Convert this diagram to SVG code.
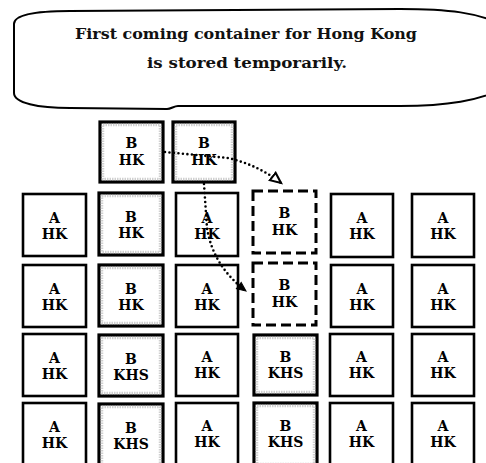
<svg xmlns="http://www.w3.org/2000/svg" width="486" height="463" viewBox="0 0 486 463">
<style>
  .bx{fill:#fff;stroke:#000;stroke-width:2.6}
  .bb{fill:#fff;stroke:#000;stroke-width:3.2}
  .sh{fill:none;stroke:#d0d0d0;stroke-width:2.5;stroke-dasharray:1.5 1}
  .dash{fill:#fff;stroke:#000;stroke-width:3;stroke-dasharray:10 5}
  .t{font-family:"DejaVu Serif","Liberation Serif",serif;font-weight:bold;font-size:14px;text-anchor:middle;fill:#000}
  .ct{font-family:"DejaVu Serif","Liberation Serif",serif;font-weight:bold;font-size:14.5px;text-anchor:middle;fill:#111}
  .con{fill:none;stroke:#000;stroke-width:2.6;stroke-linecap:round;stroke-dasharray:0 4.5}
</style>
<defs>
  <marker id="open" markerUnits="userSpaceOnUse" markerWidth="14" markerHeight="14" refX="10" refY="5" orient="auto" viewBox="0 0 12 10">
    <path d="M1,1 L10,5 L1,9 Z" fill="#fff" stroke="#000" stroke-width="1.8"/>
  </marker>
  <marker id="solid" markerUnits="userSpaceOnUse" markerWidth="12" markerHeight="12" refX="10" refY="5" orient="auto" viewBox="0 0 12 10">
    <path d="M1,1 L10,5 L1,9 Z" fill="#000" stroke="#000" stroke-width="1"/>
  </marker>
</defs>
<rect width="486" height="463" fill="#fff"/>

<g id="callout">
  <path d="M14,24 C14,14 40,11 70,11 L400,9 C450,9 478,13 500,24 L500,90 C478,100 450,106 400,106 L178,106 C174,106 171,109 167,109 L70,108 C38,108 14,103 14,93 Z" fill="#fff" stroke="#000" stroke-width="2"/>
  <text class="ct" x="246" y="39" textLength="342" lengthAdjust="spacingAndGlyphs">First coming container for Hong Kong</text>
  <text class="ct" x="247" y="68" textLength="200" lengthAdjust="spacingAndGlyphs">is stored temporarily.</text>
</g>

<g id="top-b1"><rect class="bb" x="100" y="122" width="63" height="60"/><rect class="sh" x="103" y="125" width="57" height="54"/><text class="t" x="131.5" y="148">B</text><text class="t" x="131.5" y="165">HK</text></g>
<g id="top-b2"><rect class="bb" x="173" y="122" width="62" height="60"/><rect class="sh" x="176" y="125" width="56" height="54"/><text class="t" x="204" y="148">B</text><text class="t" x="204" y="165">HK</text></g>

<g id="r1c1"><rect class="bx" x="23" y="194" width="63" height="62"/><text class="t" x="54.5" y="223">A</text><text class="t" x="54.5" y="239">HK</text></g>
<g id="r1c2"><rect class="bb" x="99" y="193" width="64" height="62"/><rect class="sh" x="102" y="196" width="58" height="56"/><text class="t" x="131" y="222">B</text><text class="t" x="131" y="238">HK</text></g>
<g id="r1c3"><rect class="bx" x="176" y="193" width="62" height="63"/><text class="t" x="207" y="223">A</text><text class="t" x="207" y="239">HK</text></g>
<g id="r1c4"><rect class="dash" x="253" y="191" width="63" height="62"/><text class="t" x="284.5" y="218">B</text><text class="t" x="284.5" y="235">HK</text></g>
<g id="r1c5"><rect class="bx" x="331" y="194" width="62" height="63"/><text class="t" x="362" y="223">A</text><text class="t" x="362" y="239">HK</text></g>
<g id="r1c6"><rect class="bx" x="412" y="194" width="62" height="63"/><text class="t" x="443" y="223">A</text><text class="t" x="443" y="239">HK</text></g>

<g id="r2c1"><rect class="bx" x="23" y="265" width="63" height="62"/><text class="t" x="54.5" y="294">A</text><text class="t" x="54.5" y="310">HK</text></g>
<g id="r2c2"><rect class="bb" x="99" y="265" width="64" height="61"/><rect class="sh" x="102" y="268" width="58" height="55"/><text class="t" x="131" y="294">B</text><text class="t" x="131" y="310">HK</text></g>
<g id="r2c3"><rect class="bx" x="176" y="265" width="62" height="62"/><text class="t" x="207" y="294">A</text><text class="t" x="207" y="310">HK</text></g>
<g id="r2c4"><rect class="dash" x="253" y="263" width="63" height="62"/><text class="t" x="284.5" y="290">B</text><text class="t" x="284.5" y="307">HK</text></g>
<g id="r2c5"><rect class="bx" x="331" y="265" width="62" height="62"/><text class="t" x="362" y="294">A</text><text class="t" x="362" y="310">HK</text></g>
<g id="r2c6"><rect class="bx" x="412" y="265" width="62" height="62"/><text class="t" x="443" y="294">A</text><text class="t" x="443" y="310">HK</text></g>

<g id="r3c1"><rect class="bx" x="23" y="334" width="63" height="62"/><text class="t" x="54.5" y="363">A</text><text class="t" x="54.5" y="379">HK</text></g>
<g id="r3c2"><rect class="bb" x="99" y="335" width="64" height="61"/><rect class="sh" x="102" y="338" width="58" height="55"/><text class="t" x="131" y="364">B</text><text class="t" x="131" y="380">KHS</text></g>
<g id="r3c3"><rect class="bx" x="176" y="334" width="62" height="62"/><text class="t" x="207" y="362">A</text><text class="t" x="207" y="378">HK</text></g>
<g id="r3c4"><rect class="bb" x="254" y="335" width="63" height="60"/><rect class="sh" x="257" y="338" width="57" height="54"/><text class="t" x="285.5" y="362">B</text><text class="t" x="285.5" y="378">KHS</text></g>
<g id="r3c5"><rect class="bx" x="330" y="334" width="63" height="62"/><text class="t" x="361.5" y="362">A</text><text class="t" x="361.5" y="378">HK</text></g>
<g id="r3c6"><rect class="bx" x="412" y="334" width="62" height="62"/><text class="t" x="443" y="362">A</text><text class="t" x="443" y="378">HK</text></g>

<g id="r4c1"><rect class="bx" x="23" y="403" width="63" height="64"/><text class="t" x="54.5" y="432">A</text><text class="t" x="54.5" y="448">HK</text></g>
<g id="r4c2"><rect class="bb" x="99" y="404" width="64" height="64"/><rect class="sh" x="102" y="407" width="58" height="58"/><text class="t" x="131" y="433">B</text><text class="t" x="131" y="449">KHS</text></g>
<g id="r4c3"><rect class="bx" x="176" y="403" width="62" height="64"/><text class="t" x="207" y="431">A</text><text class="t" x="207" y="447">HK</text></g>
<g id="r4c4"><rect class="bb" x="254" y="403" width="63" height="64"/><rect class="sh" x="257" y="406" width="57" height="58"/><text class="t" x="285.5" y="431">B</text><text class="t" x="285.5" y="447">KHS</text></g>
<g id="r4c5"><rect class="bx" x="330" y="403" width="63" height="64"/><text class="t" x="361.5" y="431">A</text><text class="t" x="361.5" y="447">HK</text></g>
<g id="r4c6"><rect class="bx" x="412" y="403" width="62" height="64"/><text class="t" x="443" y="431">A</text><text class="t" x="443" y="447">HK</text></g>

<g id="connectors">
  <path class="con" d="M165,152 L228,158 Q258,165 281,183" marker-end="url(#open)"/>
  <path class="con" d="M204,184 L207,228 Q213,266 246,291" marker-end="url(#solid)"/>
</g>
</svg>
